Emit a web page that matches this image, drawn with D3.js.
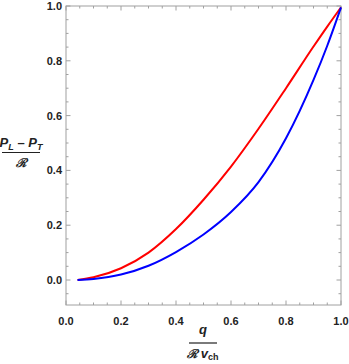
<!DOCTYPE html>
<html><head><meta charset="utf-8">
<script src="https://cdn.jsdelivr.net/npm/d3@7"></script>
<style>body{margin:0;background:#fff}svg{display:block}</style>
</head><body>
<script>
const qValues = [0.042, 0.1, 0.2, 0.3, 0.4, 0.5, 0.6, 0.7, 0.8, 0.9, 0.95, 1.0];
const redValues = [0.0, 0.010, 0.043, 0.100, 0.186, 0.293, 0.414, 0.552, 0.700, 0.852, 0.925, 0.995];
const blueValues = [0.0, 0.004, 0.020, 0.052, 0.102, 0.166, 0.248, 0.357, 0.517, 0.730, 0.855, 0.995];
const xTicks = [0.0, 0.2, 0.4, 0.6, 0.8, 1.0];
const yTicks = [0.0, 0.2, 0.4, 0.6, 0.8, 1.0];

const W = 349, H = 364;
const svg = d3.select("body").append("svg").attr("width", W).attr("height", H);
const x = d3.scaleLinear().domain([0, 1]).range([66, 341]);
const y = d3.scaleLinear().domain([-0.0912, 1]).range([305, 6]);
const frameColor = "#a0a0a0";

// frame
svg.append("rect").attr("x", x(0)).attr("y", y(1)).attr("width", x(1) - x(0)).attr("height", y(-0.0912) - y(1))
  .attr("fill", "none").attr("stroke", frameColor).attr("stroke-width", 1);

const minorX = d3.range(0, 1.0001, 0.05);
const minorY = d3.range(-0.05, 1.0001, 0.05);
const isMajor = v => Math.abs(v * 5 - Math.round(v * 5)) < 1e-6;
const g = svg.append("g").attr("stroke", frameColor).attr("stroke-width", 1);
minorX.forEach(v => {
  const L = isMajor(v) ? 4.5 : 2.5;
  g.append("line").attr("x1", x(v)).attr("x2", x(v)).attr("y1", y(-0.0912)).attr("y2", y(-0.0912) - L);
  g.append("line").attr("x1", x(v)).attr("x2", x(v)).attr("y1", y(1)).attr("y2", y(1) + L);
});
minorY.forEach(v => {
  const L = isMajor(v) ? 4.5 : 2.5;
  g.append("line").attr("y1", y(v)).attr("y2", y(v)).attr("x1", x(0)).attr("x2", x(0) + L);
  g.append("line").attr("y1", y(v)).attr("y2", y(v)).attr("x1", x(1)).attr("x2", x(1) - L);
});

const font = "'Liberation Sans', Arial, sans-serif";
svg.append("g").selectAll("text").data(xTicks).join("text")
  .attr("x", d => x(d)).attr("y", 325).attr("text-anchor", "middle")
  .attr("font-family", font).attr("font-size", 11).attr("font-weight", "bold").attr("fill", "#222")
  .text(d => d3.format(".1f")(d));
svg.append("g").selectAll("text").data(yTicks).join("text")
  .attr("x", 62).attr("y", d => y(d) + 4).attr("text-anchor", "end")
  .attr("font-family", font).attr("font-size", 11).attr("font-weight", "bold").attr("fill", "#222")
  .text(d => d3.format(".1f")(d));

// curves
const line = d3.line().x(d => x(d[0])).y(d => y(d[1])).curve(d3.curveMonotoneX);
svg.append("path").datum(qValues.map((q, i) => [q, redValues[i]]))
  .attr("d", line).attr("fill", "none").attr("stroke", "#ff0000").attr("stroke-width", 2);
svg.append("path").datum(qValues.map((q, i) => [q, blueValues[i]]))
  .attr("d", line).attr("fill", "none").attr("stroke", "#0000ff").attr("stroke-width", 2);

// y label fraction
const yl = svg.append("g").attr("font-family", font).attr("font-size", 13).attr("font-style", "italic").attr("font-weight", "bold").attr("fill", "#222");
const t1 = yl.append("text").attr("x", 21).attr("y", 147).attr("text-anchor", "middle");
t1.append("tspan").text("P");
t1.append("tspan").attr("font-size", 9).attr("dy", 3).text("L");
t1.append("tspan").attr("dy", -3).attr("font-style", "normal").text(" \u2013 ");
t1.append("tspan").text("P");
t1.append("tspan").attr("font-size", 9).attr("dy", 3).text("T");
svg.append("line").attr("x1", 2).attr("x2", 40).attr("y1", 152.5).attr("y2", 152.5).attr("stroke", "#222").attr("stroke-width", 1.2);
yl.append("text").attr("x", 21).attr("y", 167).attr("text-anchor", "middle").attr("font-size", 12).text("\u211B");

// x label fraction
const xl = svg.append("g").attr("font-family", font).attr("font-size", 13).attr("font-style", "italic").attr("font-weight", "bold").attr("fill", "#222");
xl.append("text").attr("x", 203).attr("y", 334).attr("text-anchor", "middle").text("q");
svg.append("line").attr("x1", 189).attr("x2", 217).attr("y1", 343).attr("y2", 343).attr("stroke", "#222").attr("stroke-width", 1.2);
const t2 = xl.append("text").attr("x", 203).attr("y", 358).attr("text-anchor", "middle");
t2.append("tspan").attr("font-size", 12).text("\u211B ");
t2.append("tspan").text("v");
t2.append("tspan").attr("font-size", 9).attr("dy", 2).attr("font-style", "normal").text("ch");
</script>
</body></html>
